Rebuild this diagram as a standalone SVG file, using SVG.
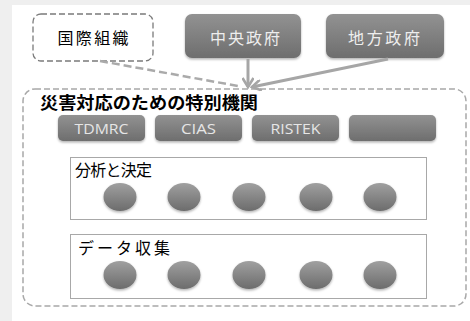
<svg xmlns="http://www.w3.org/2000/svg" width="470" height="321" viewBox="0 0 470 321">
<defs>
<linearGradient id="gBox" x1="0" y1="0" x2="0" y2="1">
<stop offset="0" stop-color="#929292"/>
<stop offset="1" stop-color="#6e6e6e"/>
</linearGradient>
<linearGradient id="gDot" x1="0" y1="0" x2="0" y2="1">
<stop offset="0" stop-color="#a0a0a0"/>
<stop offset="1" stop-color="#6c6c6c"/>
</linearGradient>
<filter id="sh" x="-20%" y="-20%" width="140%" height="150%">
<feDropShadow dx="0" dy="1.5" stdDeviation="1.2" flood-color="#000" flood-opacity="0.3"/>
</filter>
<marker id="ah" viewBox="0 0 12 12" refX="10" refY="6" markerWidth="12" markerHeight="12" markerUnits="userSpaceOnUse" orient="auto">
<path d="M1,0.5 L10,6 L1,11.5" fill="none" stroke="#a6a6a6" stroke-width="2.6"/>
</marker>
</defs>
<style>
.gbox{fill:url(#gBox);filter:url(#sh)}
.gtxt{font-family:"Noto Sans CJK JP",sans-serif;font-size:16px;fill:#eeeeee;text-anchor:middle}
.btxt{font-family:"Open Sans","Noto Sans",sans-serif;font-size:14.5px;fill:#e6e6e6;text-anchor:middle}
.dot{fill:url(#gDot);filter:url(#sh)}
.panel{fill:#ffffff;stroke:#a8a8a8;stroke-width:1}
.ptxt{font-family:"Noto Sans CJK JP",serif;font-size:16px;fill:#000}
.conn{fill:none;stroke:#a6a6a6;stroke-width:3}
</style>
<rect x="0" y="0" width="470" height="321" fill="#efefef"/>
<rect x="12" y="5" width="458" height="316" fill="#ffffff"/>

<g id="agency">
<rect x="23" y="89" width="443" height="217" rx="12" fill="none" stroke="#a8a8a8" stroke-width="1.5" stroke-dasharray="6,3"/>
<text x="40" y="109" font-family="'Noto Sans CJK JP',sans-serif" font-size="17" font-weight="bold" fill="#000" textLength="218" lengthAdjust="spacingAndGlyphs">災害対応のための特別機関</text>
</g>

<g id="international">
<rect x="33" y="14" width="120" height="47" rx="8" fill="#ffffff" stroke="#7a7a7a" stroke-width="1.3" stroke-dasharray="6,3"/>
<text x="93" y="44" font-family="'Noto Sans CJK JP',sans-serif" font-size="16" fill="#000" text-anchor="middle" textLength="71" lengthAdjust="spacing">国際組織</text>
</g>

<g id="central">
<rect class="gbox" x="185" y="14" width="116" height="44" rx="7"/>
<text class="gtxt" x="245" y="44" textLength="70" lengthAdjust="spacing">中央政府</text>
</g>

<g id="local">
<rect class="gbox" x="326" y="14" width="118" height="44" rx="7"/>
<text class="gtxt" x="384" y="44" textLength="72" lengthAdjust="spacing">地方政府</text>
</g>

<g id="connectors">
<line x1="100" y1="61" x2="238" y2="86" stroke="#aaaaaa" stroke-width="2.5" stroke-dasharray="8,4"/>
<line class="conn" x1="248" y1="59" x2="248" y2="87" marker-end="url(#ah)"/>
<line class="conn" x1="388" y1="59" x2="252" y2="87" marker-end="url(#ah)"/>
</g>

<g id="tdmrc">
<rect class="gbox" x="58" y="115" width="87" height="26" rx="5"/>
<text class="btxt" x="101.5" y="134" textLength="54" lengthAdjust="spacingAndGlyphs">TDMRC</text>
</g>
<g id="cias">
<rect class="gbox" x="155" y="115" width="87" height="26" rx="5"/>
<text class="btxt" x="198.5" y="134" textLength="35" lengthAdjust="spacingAndGlyphs">CIAS</text>
</g>
<g id="ristek">
<rect class="gbox" x="252" y="115" width="87" height="26" rx="5"/>
<text class="btxt" x="295.5" y="134" textLength="50" lengthAdjust="spacingAndGlyphs">RISTEK</text>
</g>
<g id="blank">
<rect class="gbox" x="349" y="115" width="87" height="26" rx="5"/>
</g>

<g id="analysis">
<rect class="panel" x="70.5" y="157.5" width="356" height="62"/>
<text class="ptxt" x="75" y="176" textLength="77" lengthAdjust="spacing">分析と決定</text>
<ellipse class="dot" cx="120" cy="197" rx="16.5" ry="14"/>
<ellipse class="dot" cx="184" cy="197" rx="16.5" ry="14"/>
<ellipse class="dot" cx="249" cy="197" rx="16.5" ry="14"/>
<ellipse class="dot" cx="316" cy="197" rx="16.5" ry="14"/>
<ellipse class="dot" cx="380" cy="197" rx="16.5" ry="14"/>
</g>

<g id="collection">
<rect class="panel" x="70.5" y="234.5" width="356" height="64"/>
<text class="ptxt" x="78" y="254" textLength="92" lengthAdjust="spacing">データ収集</text>
<ellipse class="dot" cx="120" cy="275" rx="16.5" ry="14"/>
<ellipse class="dot" cx="184" cy="275" rx="16.5" ry="14"/>
<ellipse class="dot" cx="249" cy="275" rx="16.5" ry="14"/>
<ellipse class="dot" cx="316" cy="275" rx="16.5" ry="14"/>
<ellipse class="dot" cx="380" cy="275" rx="16.5" ry="14"/>
</g>
</svg>
